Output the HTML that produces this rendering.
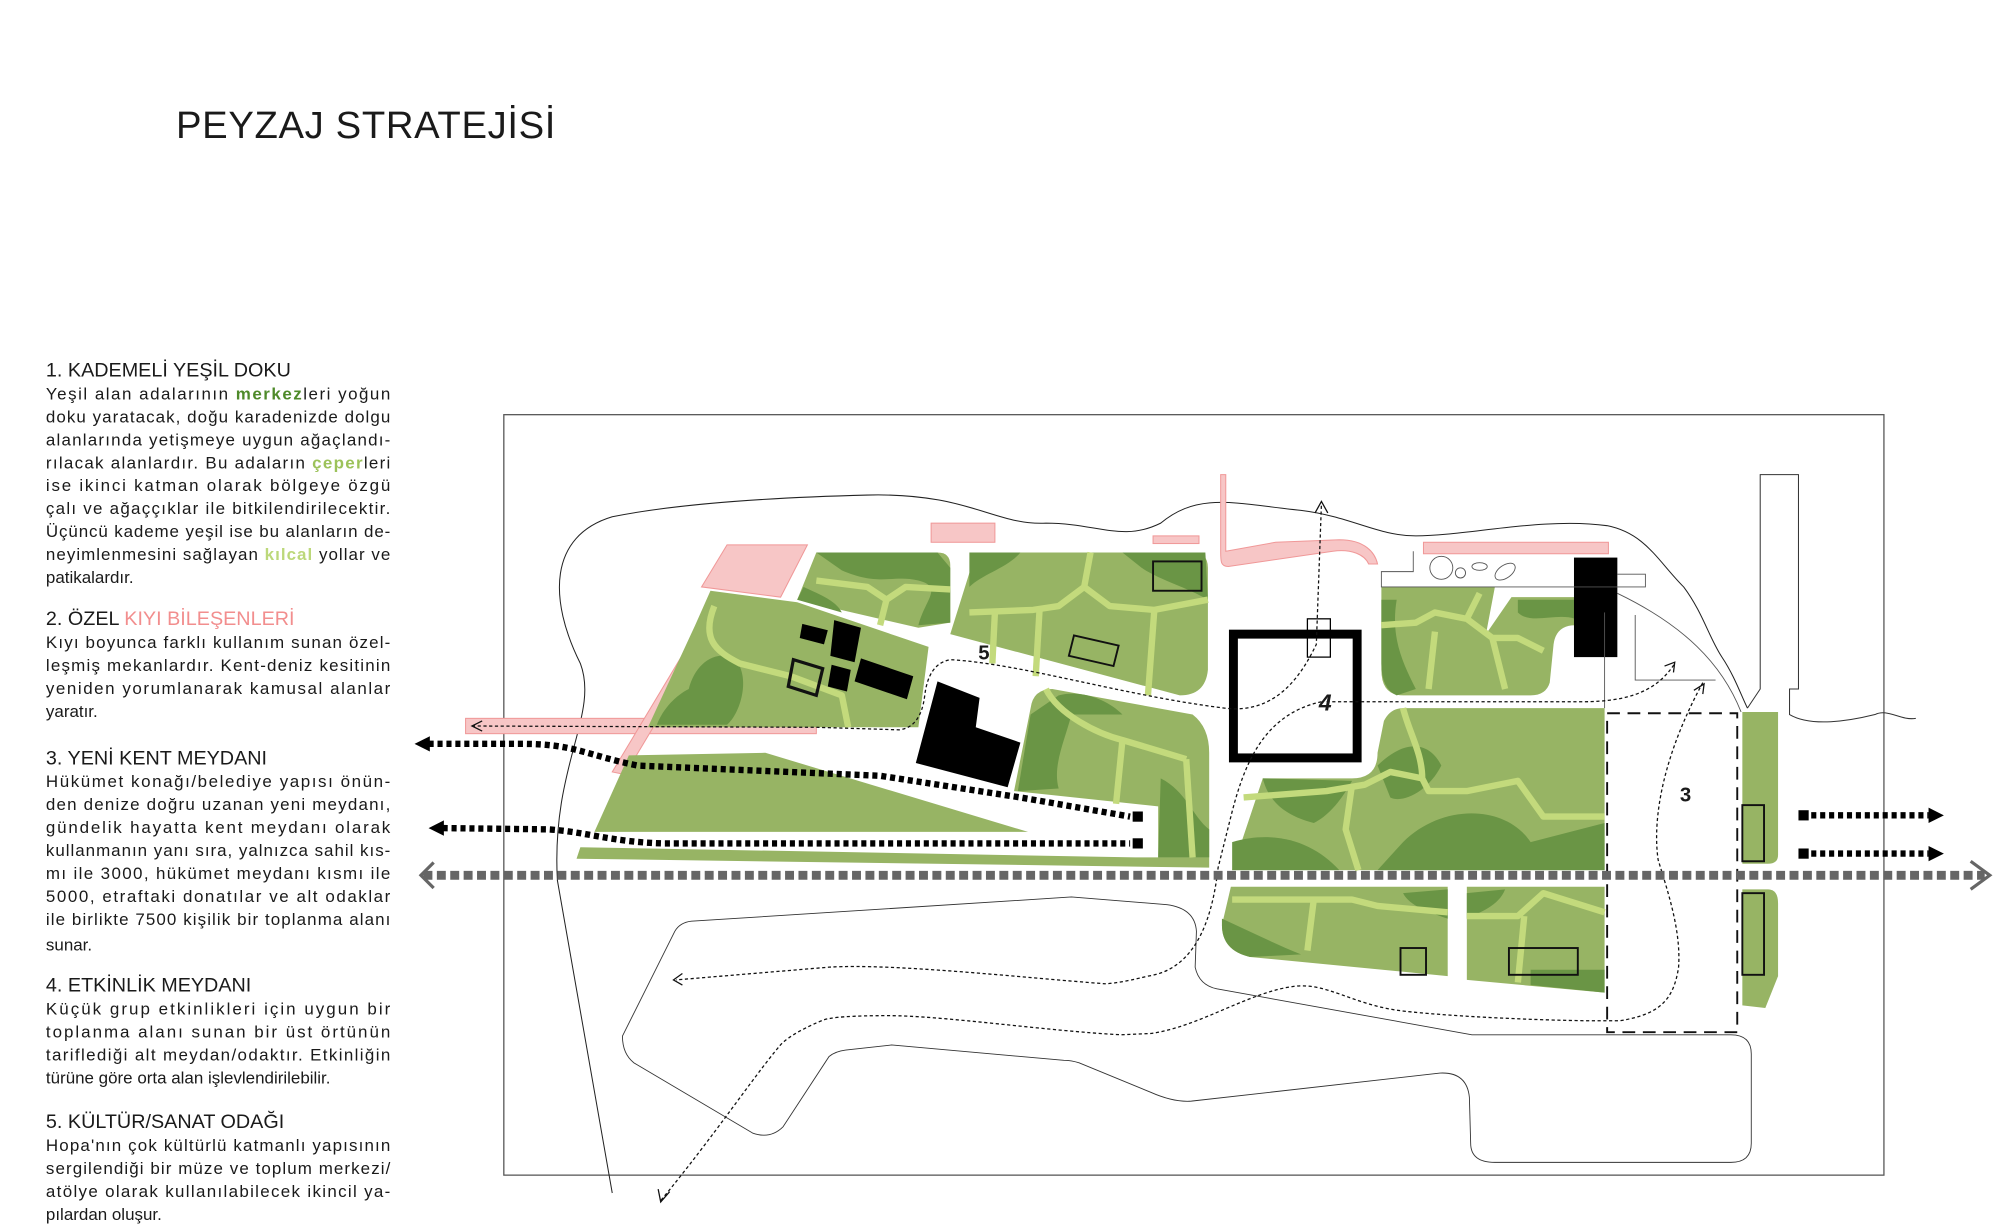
<!DOCTYPE html>
<html><head><meta charset="utf-8"><style>
html,body{margin:0;padding:0;background:#fff;}
svg{display:block;}
text{font-family:"Liberation Sans","DejaVu Sans",sans-serif;fill:#1a1a1a;}
.b{font-size:13.3px;}
.h{font-size:15.5px;}
</style></head><body>
<svg width="2000" height="1230" viewBox="0 0 1568 964" preserveAspectRatio="none" xmlns="http://www.w3.org/2000/svg">
<rect width="1568" height="964" fill="#fff"/>
<text x="138" y="108" style="font-size:30px;letter-spacing:0.5px">PEYZAJ STRATEJİSİ</text>

<g class="b">
<text class="h" x="36" y="295">1. KADEMELİ YEŞİL DOKU</text>
<text x="36" y="313" textLength="270" lengthAdjust="spacing">Yeşil alan adalarının <tspan font-weight="bold" style="fill:#4e8a2a">merkez</tspan>leri yoğun</text>
<text x="36" y="331" textLength="270" lengthAdjust="spacing">doku yaratacak, doğu karadenizde dolgu</text>
<text x="36" y="349" textLength="270" lengthAdjust="spacing">alanlarında yetişmeye uygun ağaçlandı-</text>
<text x="36" y="367" textLength="270" lengthAdjust="spacing">rılacak alanlardır. Bu adaların <tspan style="fill:#9cc25a" font-weight="bold">çeper</tspan>leri</text>
<text x="36" y="385" textLength="270" lengthAdjust="spacing">ise ikinci katman olarak bölgeye özgü</text>
<text x="36" y="403" textLength="270" lengthAdjust="spacing">çalı ve ağaççıklar ile bitkilendirilecektir.</text>
<text x="36" y="421" textLength="270" lengthAdjust="spacing">Üçüncü kademe yeşil ise bu alanların de-</text>
<text x="36" y="439" textLength="270" lengthAdjust="spacing">neyimlenmesini sağlayan <tspan style="fill:#bcd87a" font-weight="bold">kılcal</tspan> yollar ve</text>
<text x="36" y="457">patikalardır.</text>

<text class="h" x="36" y="490">2. ÖZEL <tspan style="fill:#f28e8e">KIYI BİLEŞENLERİ</tspan></text>
<text x="36" y="508" textLength="270" lengthAdjust="spacing">Kıyı boyunca farklı kullanım sunan özel-</text>
<text x="36" y="526" textLength="270" lengthAdjust="spacing">leşmiş mekanlardır. Kent-deniz kesitinin</text>
<text x="36" y="544" textLength="270" lengthAdjust="spacing">yeniden yorumlanarak kamusal alanlar</text>
<text x="36" y="562">yaratır.</text>

<text class="h" x="36" y="599">3. YENİ KENT MEYDANI</text>
<text x="36" y="617" textLength="270" lengthAdjust="spacing">Hükümet konağı/belediye yapısı önün-</text>
<text x="36" y="635" textLength="270" lengthAdjust="spacing">den denize doğru uzanan yeni meydanı,</text>
<text x="36" y="653" textLength="270" lengthAdjust="spacing">gündelik hayatta kent meydanı olarak</text>
<text x="36" y="671" textLength="270" lengthAdjust="spacing">kullanmanın yanı sıra, yalnızca sahil kıs-</text>
<text x="36" y="689" textLength="270" lengthAdjust="spacing">mı ile 3000, hükümet meydanı kısmı ile</text>
<text x="36" y="707" textLength="270" lengthAdjust="spacing">5000, etraftaki donatılar ve alt odaklar</text>
<text x="36" y="725" textLength="270" lengthAdjust="spacing">ile birlikte 7500 kişilik bir toplanma alanı</text>
<text x="36" y="745">sunar.</text>

<text class="h" x="36" y="777">4. ETKİNLİK MEYDANI</text>
<text x="36" y="795" textLength="270" lengthAdjust="spacing">Küçük grup etkinlikleri için uygun bir</text>
<text x="36" y="813" textLength="270" lengthAdjust="spacing">toplanma alanı sunan bir üst örtünün</text>
<text x="36" y="831" textLength="270" lengthAdjust="spacing">tariflediği alt meydan/odaktır. Etkinliğin</text>
<text x="36" y="849">türüne göre orta alan işlevlendirilebilir.</text>

<text class="h" x="36" y="884">5. KÜLTÜR/SANAT ODAĞI</text>
<text x="36" y="902" textLength="270" lengthAdjust="spacing">Hopa'nın çok kültürlü katmanlı yapısının</text>
<text x="36" y="920" textLength="270" lengthAdjust="spacing">sergilendiği bir müze ve toplum merkezi/</text>
<text x="36" y="938" textLength="270" lengthAdjust="spacing">atölye olarak kullanılabilecek ikincil ya-</text>
<text x="36" y="956">pılardan oluşur.</text>
</g>

<!-- frame -->
<rect x="395" y="325" width="1082" height="596" fill="none" stroke="#555" stroke-width="1"/>

<!-- outer land outline -->
<path d="M480,935 L437,690 C432,600 470,560 455,520 C430,470 430,420 480,405 C530,395 600,390 680,388 C760,386 780,412 820,410 C860,410 880,425 910,410 C940,385 970,395 1020,400 C1060,405 1080,420 1110,420 C1150,420 1210,405 1260,412 C1290,418 1300,440 1320,460 C1335,480 1340,500 1350,515 C1360,530 1365,545 1370,555" fill="none" stroke="#222" stroke-width="0.8"/>
<path d="M1370,555 L1380,540 L1380,372 L1410,372 L1410,540 L1403,540 L1403,560 C1420,570 1450,565 1470,560 C1480,555 1490,565 1502,563" fill="none" stroke="#333" stroke-width="0.8"/>
<!-- lower loop road -->
<path d="M542,722 L840,703 L915,709 Q937,712 938,730 L937,758 Q940,772 954,775 L1154,811 L1357,811 Q1373,811 1373,826 L1373,896 Q1373,911 1357,911 L1172,911 Q1153,911 1153,896 L1152,860 Q1150,840 1129,841 L934,863 Q920,864 902,856 L846,833 Q840,831 834,831 L699,819 L663,823 Q655,824 650,828 L614,883 Q604,893 590,888 L497,833 Q488,826 488,812 L529,730 Q533,723 542,722 Z" fill="none" stroke="#333" stroke-width="0.7"/>

<!-- pink shore components -->
<g fill="#f7c6c6" stroke="#f09898" stroke-width="0.8">
<path d="M570,427 L633,427 L612,468 L550,460 Z"/>
<rect x="730" y="410" width="50" height="15"/>
<rect x="904" y="420" width="36" height="6"/>
<path d="M957,372 L961,372 L961,432 L1000,425 L1050,423 C1070,423 1078,433 1080,442 L1073,442 C1070,435 1060,430 1045,432 L963,444 C957,444 957,440 957,432 Z"/>
<rect x="365" y="563" width="275" height="12"/>
<path d="M480,605 L540,505 C555,485 590,485 600,510 C605,535 600,555 590,565 L578,565 C590,550 592,530 585,512 C575,495 555,497 545,515 L490,607 Z"/>
<rect x="1116" y="425" width="145" height="9"/>
</g>

<!-- green blocks -->
<g fill="#97b464">
<path d="M640,433 L735,433 Q745,433 745,443 L745,488 L720,492 L625,470 Z"/>
<path d="M765,433 L935,433 Q947,433 947,445 L947,525 Q945,545 925,545 L745,497 Z"/>
<path d="M557,463 L625,472 L728,507 L720,570 L508,570 L545,490 Z"/>
<path d="M466,652 L493,592 L600,590 L806,652 Z"/>
<path d="M455,664 L890,672 L948,672 L948,680 L452,673 Z"/>
<path d="M825,540 L935,560 Q948,570 948,590 L948,672 L908,672 L908,632 L795,620 L808,555 Q810,540 825,540 Z"/>
<path d="M990,610 L1060,610 Q1080,610 1080,590 L1085,565 Q1090,555 1100,555 L1258,555 L1258,682 L966,682 Z"/>
<path d="M1083,460 L1172,460 L1165,497 L1185,468 L1235,468 L1235,490 Q1220,490 1218,505 L1215,535 Q1212,545 1200,545 L1100,545 Q1083,545 1083,525 Z"/>
<path d="M965,695 L1135,695 L1135,765 L980,750 Q958,745 958,725 Z"/>
<path d="M1150,695 L1258,695 L1258,778 L1150,768 Z"/>
<path d="M1366,558 L1394,558 L1394,670 Q1394,677 1386,677 L1366,677 Z"/>
<path d="M1366,697 L1386,697 Q1394,697 1394,708 L1394,765 L1384,790 L1366,788 Z"/>
</g>
<!-- dark green masses -->
<g fill="#6a9545">
<path d="M640,433 L735,433 L745,445 L745,488 L720,490 C725,470 740,460 720,455 C700,450 690,460 660,447 Z"/>
<path d="M625,470 L660,480 C655,470 640,465 630,460 Z"/>
<path d="M540,540 C545,520 560,510 575,515 C590,530 580,560 570,568 L515,568 C520,555 530,545 540,540 Z"/>
<path d="M760,433 L800,433 C790,445 770,450 760,460 Z"/>
<path d="M880,433 L945,433 L947,470 C930,460 910,455 895,445 Z"/>
<path d="M830,545 C850,540 870,550 880,560 L840,560 C835,580 825,600 830,618 L798,620 L808,560 Z"/>
<path d="M910,610 C930,620 935,640 948,650 L948,672 L908,672 Z"/>
<path d="M1083,470 L1095,470 C1090,500 1100,520 1110,540 L1095,545 Q1083,540 1083,520 Z"/>
<path d="M1190,470 L1235,470 L1235,485 C1220,480 1200,490 1190,480 Z"/>
<path d="M990,610 L1060,612 C1050,630 1040,640 1030,645 C1010,640 995,630 990,610 Z"/>
<path d="M1080,600 C1100,580 1120,580 1130,600 C1120,620 1100,630 1090,625 Z"/>
<path d="M1100,660 C1130,630 1180,630 1200,660 L1258,645 L1258,682 L1080,682 Z"/>
<path d="M966,660 C1000,650 1030,660 1050,682 L966,682 Z"/>
<path d="M958,720 C980,730 1000,740 1020,748 L980,750 Q958,745 958,725 Z"/>
<path d="M1100,700 L1135,697 L1135,720 C1120,715 1105,710 1100,700 Z"/>
<path d="M1150,700 L1180,697 C1175,710 1160,715 1150,720 Z"/>
<path d="M1200,760 L1258,760 L1258,778 L1200,772 Z"/>
</g>
<!-- light paths -->
<g fill="none" stroke="#c3da7c" stroke-width="5" stroke-linejoin="round">
<path d="M640,455 L680,460 L695,470 L710,460 L745,462"/>
<path d="M695,470 L690,490"/>
<path d="M560,475 C550,500 560,510 580,520 L620,530 L660,545 L665,570"/>
<path d="M760,480 L810,478 L830,475 L850,460 L855,433"/>
<path d="M850,460 L870,475 L905,478 L947,470"/>
<path d="M780,480 L778,520"/>
<path d="M815,478 L812,530"/>
<path d="M905,478 L900,545"/>
<path d="M820,540 C830,560 860,575 880,580 L930,595"/>
<path d="M880,580 L875,630"/>
<path d="M930,595 L935,672"/>
<path d="M1083,490 L1110,488 L1125,480 L1150,485 L1170,500 L1190,500 L1210,510"/>
<path d="M1125,495 L1120,540"/>
<path d="M1150,485 L1160,465"/>
<path d="M1170,500 L1180,540"/>
<path d="M1100,555 C1105,575 1115,590 1115,610 L1120,620 L1150,620 L1190,612 L1210,640 L1258,640"/>
<path d="M975,625 L1040,620 L1070,615 L1090,605 L1115,610"/>
<path d="M1060,615 L1055,650 L1065,682"/>
<path d="M966,705 L1020,705 L1060,705 L1080,710 L1135,715"/>
<path d="M1030,705 L1025,745"/>
<path d="M1150,718 L1190,718 L1210,700 L1258,715"/>
<path d="M1195,718 L1190,770"/>
</g>

<!-- outline rectangles -->
<g fill="none" stroke="#111" stroke-width="1.5">
<rect x="904" y="440" width="38" height="23"/>
<path d="M842,498 L877,506 L873,522 L838,514 Z"/>
<rect x="1098" y="743" width="20" height="21"/>
<rect x="1183" y="743" width="54" height="21"/>
<rect x="1366" y="631" width="17" height="44"/>
<rect x="1366" y="700" width="17" height="64"/>
<path d="M622,517 L645,524 L640,545 L618,538 Z" stroke-width="2.5"/>
</g>

<!-- black buildings -->
<g fill="#000">
<path d="M735,534 L768,547 L765,570 L800,582 L790,617 L718,598 Z"/>
<rect x="1234" y="437" width="34" height="78"/>
<path d="M629,489 L649,494 L646,505 L627,500 Z"/>
<path d="M654,486 L675,492 L670,519 L651,514 Z"/>
<path d="M652,521 L667,525 L664,542 L649,538 Z"/>
<path d="M675,516 L716,530 L711,548 L670,534 Z"/>
</g>

<!-- facility outlines near shore -->
<g fill="none" stroke="#555" stroke-width="0.7">
<path d="M1108,432 L1108,448 L1083,448 L1083,460 L1290,460 L1290,450 L1268,450"/>
<circle cx="1130" cy="445" r="9"/><circle cx="1145" cy="449" r="4"/>
<ellipse cx="1160" cy="444" rx="6" ry="3"/>
<ellipse cx="1180" cy="448" rx="9" ry="5" transform="rotate(-35 1180 448)"/>
<path d="M1268,465 C1320,490 1350,520 1365,558"/>
<path d="M1282,482 L1282,533 L1345,533"/>
<path d="M1258,555 L1258,480"/>
</g>

<!-- square 4 -->
<rect x="967" y="497" width="97" height="97" fill="none" stroke="#000" stroke-width="7"/>
<rect x="1025" y="485" width="18" height="30" fill="none" stroke="#000" stroke-width="1"/>

<!-- square 3 dashed -->
<rect x="1260" y="559" width="102" height="250" fill="none" stroke="#111" stroke-width="1.5" stroke-dasharray="10 6"/>

<!-- thin dotted paths -->
<g fill="none" stroke="#111" stroke-width="1" stroke-dasharray="2.5 2">
<path d="M370,569 L640,570 L705,572 Q722,570 725,545 Q728,520 745,517 C800,520 880,545 960,555 C1000,560 1020,530 1032,505 L1036,395"/>
<path d="M1040,550 L1240,550 C1280,550 1300,540 1313,520"/>
<path d="M1036,550 C990,560 975,600 965,640 L955,680 C950,725 935,760 900,765 C880,770 870,771 866,771 C800,766 700,755 650,758 L530,768"/>
<path d="M1335,535 C1305,590 1295,640 1300,674 C1308,700 1318,730 1316,758 C1312,785 1300,795 1270,800 L1243,800 C1180,799 1120,795 1097,792 C1060,787 1040,770 1015,773 C980,777 940,805 902,810 L879,811 C820,808 740,796 696,796 C670,796 650,797 644,800 C625,808 615,815 611,820 C590,845 560,890 518,941"/>
</g>
<g fill="none" stroke="#111" stroke-width="1">
<path d="M1031,402 L1036,393 L1041,402"/><path d="M1305,522 L1313,519 L1312,527"/>
<path d="M1328,541 L1336,536 L1335,544"/><path d="M535,763 L528,768 L535,772"/>
<path d="M378,565 L370,569 L378,573"/><path d="M516,932 L518,942 L525,934"/>
</g>

<!-- numbers -->
<text x="767" y="517" style="font-size:16px;font-weight:bold">5</text>
<text x="1034" y="557" style="font-size:18px;font-weight:bold;font-style:italic">4</text>
<text x="1317" y="628" style="font-size:16px;font-weight:bold">3</text>

<!-- black dotted arrows -->
<g fill="none" stroke="#000" stroke-width="5" stroke-dasharray="4 3">
<path d="M336,583 L410,583 C450,583 460,592 500,600 L690,608 L800,625 L886,640"/>
<path d="M347,649 L430,650 C460,652 480,660 520,661 L886,661"/>
<path d="M1420,639 L1512,639"/>
<path d="M1420,669 L1512,669"/>
</g>
<g fill="#000">
<path d="M325,583 L337,577 L337,589 Z"/>
<path d="M336,649 L348,643 L348,655 Z"/>
<rect x="888" y="636" width="8" height="8"/><rect x="888" y="657" width="8" height="8"/>
<rect x="1410" y="635" width="8" height="8"/><rect x="1410" y="665" width="8" height="8"/>
<path d="M1524,639 L1512,633 L1512,645 Z"/>
<path d="M1524,669 L1512,663 L1512,675 Z"/>
</g>

<!-- gray dashed axis -->
<line x1="332" y1="686" x2="1556" y2="686" stroke="#666" stroke-width="7" stroke-dasharray="7 3.5"/>
<path d="M340,676 L330,686 L340,696" fill="none" stroke="#666" stroke-width="2.5"/>
<path d="M1545,675 L1560,686 L1545,697" fill="none" stroke="#666" stroke-width="2.5"/>
</svg>
</body></html>
